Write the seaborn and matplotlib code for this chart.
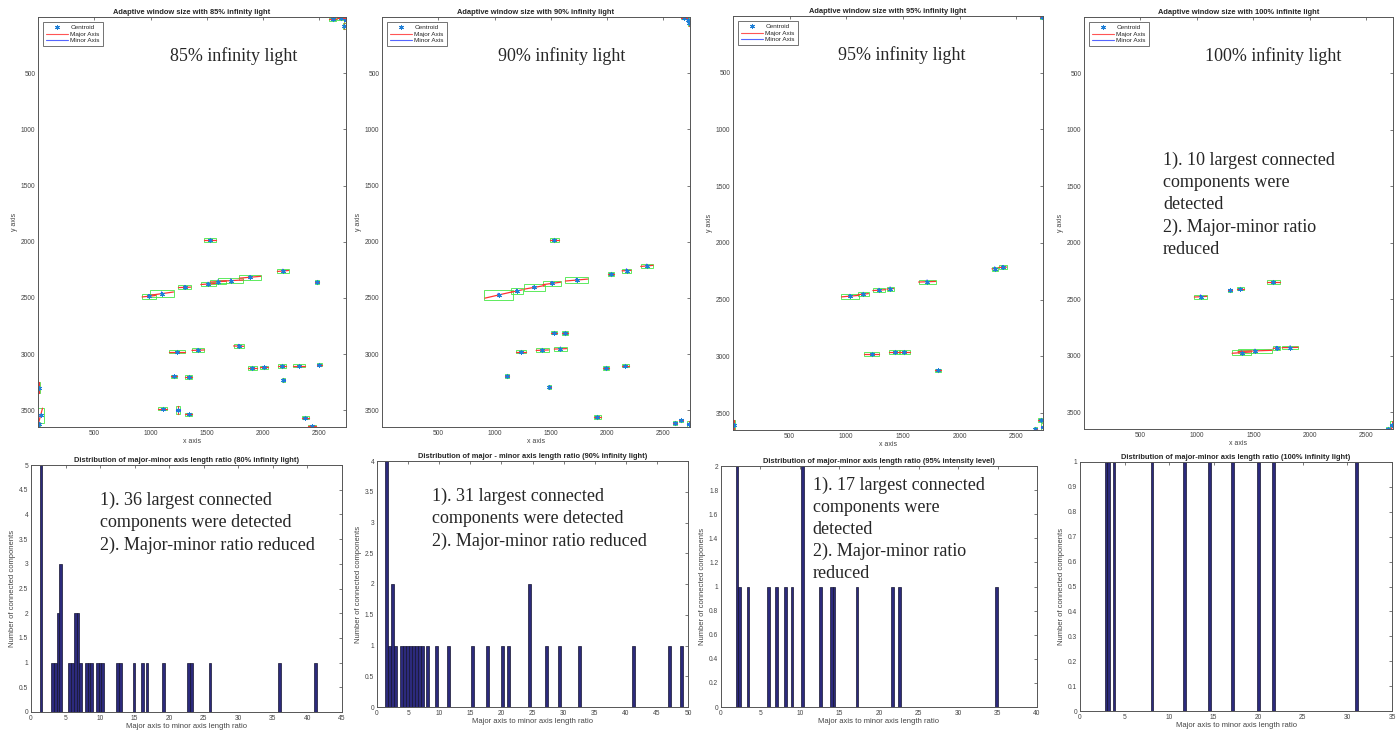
import numpy as np
import matplotlib
matplotlib.use('Agg')
import matplotlib.pyplot as plt
from matplotlib.patches import Rectangle
from matplotlib.lines import Line2D
from matplotlib.ticker import FormatStrFormatter
import seaborn as sns

# ---- top row: detected components (image coords in px), centroid / major axis length / angle(deg)
titles_top = ['Adaptive window size with 85% infinity light',
              'Adaptive window size with 90% infinity light',
              'Adaptive window size with 95% infinity light',
              'Adaptive window size with 100% infinite light']
labels_top = ['85% infinity light', '90% infinity light', '95% infinity light', '100% infinity light']

cx_85 = [1527, 985, 1100, 1303, 1512, 1601, 1714, 1884, 2177, 2479, 1235, 1423, 1783, 1905, 2009,
         2167, 2321, 2500, 1208, 1339, 2181, 1107, 1244, 1339, 2375, 2434, 5, 24, 5, 2619, 2693, 2723, 2733]
cy_85 = [1984, 2485, 2462, 2406, 2376, 2355, 2346, 2316, 2260, 2358, 2979, 2965, 2929, 3125, 3119,
         3107, 3104, 3095, 3197, 3203, 3232, 3485, 3494, 3535, 3565, 3642, 3298, 3544, 3625, 21, 12, 81, 30]
len_85 = [110, 120, 210, 110, 130, 140, 220, 190, 100, 30, 140, 110, 90, 80, 70,
          70, 110, 40, 60, 60, 40, 80, 70, 60, 60, 70, 100, 130, 50, 60, 80, 60, 40]
ang_85 = [0, 6, 8, 2, 4, 3, 3, 5, 5, 0, 0, 2, -2, 0, 0,
          0, 0, 0, 0, 0, 90, 0, 90, 0, 0, 0, 90, 75, 90, 0, 0, 90, 90]

cx_90 = [1530, 1036, 1199, 1354, 1509, 1729, 2033, 2173, 2354, 1527, 1625, 1238, 1425, 1586,
         1110, 1991, 2161, 1488, 1914, 2604, 2658, 2726, 2687, 2723, 2732]
cy_90 = [1984, 2474, 2438, 2406, 2371, 2341, 2287, 2257, 2215, 2810, 2813, 2977, 2965, 2953,
         3194, 3122, 3104, 3292, 3559, 3613, 3589, 3625, 6, 27, 50]
len_90 = [80, 250, 100, 180, 160, 200, 50, 80, 110, 50, 50, 90, 110, 110,
          40, 50, 60, 30, 60, 30, 30, 60, 60, 40, 60]
ang_90 = [0, 13, 12, 10, 8, 5, 0, 3, 5, 0, 0, 0, 2, 2,
          0, 0, 0, 0, 0, 0, 0, 90, 0, 90, 90]

cx_95 = [1033, 1151, 1290, 1388, 1714, 2311, 2380, 1225, 1426, 1512, 1808, 5, 2670, 2720, 2735, 2729]
cy_95 = [2469, 2451, 2416, 2404, 2342, 2227, 2215, 2980, 2962, 2962, 3124, 3605, 3641, 3561, 3620, 10]
len_95 = [150, 90, 110, 60, 150, 50, 70, 130, 90, 100, 50, 90, 30, 50, 60, 40]
ang_95 = [5, 5, 4, 4, 2, 3, 3, 0, 0, 0, 0, 90, 0, 0, 90, 0]

cx_100 = [1033, 1293, 1385, 1678, 1397, 1515, 1705, 1826, 2693, 2729]
cy_100 = [2477, 2421, 2406, 2347, 2972, 2957, 2933, 2927, 3646, 3617]
len_100 = [110, 40, 60, 110, 170, 300, 60, 140, 40, 70]
ang_100 = [3, 0, 0, 0, 4, 2, 2, 1, 0, 80]

top_data = [(cx_85, cy_85, len_85, ang_85), (cx_90, cy_90, len_90, ang_90),
            (cx_95, cy_95, len_95, ang_95), (cx_100, cy_100, len_100, ang_100)]

# ---- bottom row: histogram of major/minor ratio (bin centre, count), 100 bins each
titles_bot = ['Distribution of major-minor axis length ratio (80% infinity light)',
              'Distribution of major - minor axis length ratio (90% infinity light)',
              'Distribution of major-minor axis length ratio (95% intensity level)',
              'Distribution of major-minor axis length ratio (100% infinity light)']

ratio_80 = [1.45, 3.1, 3.5, 3.9, 4.3, 5.6, 6.0, 6.4, 6.8, 7.2, 8.0, 8.4, 8.8, 9.6, 10.0, 10.4,
            12.5, 12.9, 14.9, 16.1, 16.8, 19.2, 22.8, 23.2, 25.9, 36.0, 41.2]
count_80 = [5, 1, 1, 2, 3, 1, 1, 2, 2, 1, 1, 1, 1, 1, 1, 1,
            1, 1, 1, 1, 1, 1, 1, 1, 1, 1, 1]

ratio_90 = [1.53, 2.01, 2.49, 2.97, 3.94, 4.42, 4.90, 5.38, 5.86, 6.34, 6.82, 7.30,
            8.1, 9.5, 11.5, 15.3, 17.7, 20.1, 21.1, 24.5, 27.3, 29.3, 32.6, 41.2, 47.0, 48.9]
count_90 = [4, 1, 2, 1, 1, 1, 1, 1, 1, 1, 1, 1,
            1, 1, 1, 1, 1, 1, 1, 2, 1, 1, 1, 1, 1, 1]

ratio_95 = [2.04, 2.37, 3.4, 6.0, 7.0, 8.2, 9.0, 10.3, 12.6, 13.95, 14.3, 17.2, 21.7, 22.6, 34.9]
count_95 = [2, 1, 1, 1, 1, 1, 1, 2, 1, 1, 1, 1, 1, 1, 1]

ratio_100 = [2.9, 3.2, 3.8, 8.06, 11.7, 14.55, 17.1, 20.0, 21.7, 31.0]
count_100 = [1, 1, 1, 1, 1, 1, 1, 1, 1, 1]

bot_data = [(ratio_80, count_80), (ratio_90, count_90), (ratio_95, count_95), (ratio_100, count_100)]
bin_w = [0.40, 0.48, 0.33, 0.28]
xmax_bot = [45, 50, 40, 35]
ymax_bot = [5, 4, 2, 1]
ystep_bot = [0.5, 0.5, 0.2, 0.1]

notes_bot = ['1). 36 largest connected\ncomponents were detected\n2). Major-minor ratio reduced',
             '1). 31 largest connected\ncomponents were detected\n2). Major-minor ratio reduced',
             '1). 17 largest connected\ncomponents were\ndetected\n2). Major-minor ratio\nreduced',
             None]
note_top4 = '1). 10 largest connected\ncomponents were\ndetected\n2). Major-minor ratio\nreduced'

sns.set_style('white')
plt.rcParams['font.family'] = ['Liberation Sans', 'DejaVu Sans']

W, H = 1398, 733
fig = plt.figure(figsize=(W / 100, H / 100), dpi=100)


def px_axes(l, t, r, b):
    return fig.add_axes([l / W, 1 - b / H, (r - l) / W, (b - t) / H])


def style(ax):
    ax.tick_params(direction='in', top=True, right=True, length=2.5, width=0.5,
                   labelsize=4.8, labelcolor='#444', pad=2, color='#444')
    for s in ax.spines.values():
        s.set_linewidth(0.7)
        s.set_color('#555')


top_boxes = [(38, 17, 346, 427), (382, 17, 690, 427), (733, 16, 1043, 430), (1084, 17, 1393, 429)]
bot_boxes = [(31, 465, 342, 712), (377, 461, 688, 707), (721, 466, 1037, 707), (1080, 462, 1392, 711)]
label_x = [0.43, 0.375, 0.338, 0.39]
minor_len = 30
serif = ['Liberation Serif', 'DejaVu Serif']

for k in range(4):
    ax = px_axes(*top_boxes[k])
    cx, cy, L, A = top_data[k]
    for x, y, l, a in zip(cx, cy, L, A):
        t = np.deg2rad(a)
        dx, dy = l / 2 * np.cos(t), -l / 2 * np.sin(t)
        mx, my = minor_len / 2 * np.sin(t), minor_len / 2 * np.cos(t)
        w = abs(2 * dx) + abs(2 * mx)
        h = abs(2 * dy) + abs(2 * my)
        ax.add_patch(Rectangle((x - w / 2, y - h / 2), w, h, fill=False, ec='#44e844', lw=0.6))
        ax.plot([x - dx, x + dx], [y - dy, y + dy], color='#ff3333', lw=0.9)
        ax.plot([x - mx, x + mx], [y - my, y + my], color='#3344ff', lw=0.9)
    ax.plot(cx, cy, linestyle='none', marker=(6, 2, 0), ms=3.5, mew=0.7, color='#1f7fd6')
    ax.set_xlim(0.5, 2736.5)
    ax.set_ylim(3648.5, 0.5)
    ax.set_xticks([500, 1000, 1500, 2000, 2500])
    ax.set_yticks([500, 1000, 1500, 2000, 2500, 3000, 3500])
    style(ax)
    ax.set_title(titles_top[k], fontsize=5.4, fontweight='bold', pad=2)
    ax.set_xlabel('x axis', fontsize=5, color='#444', labelpad=1)
    ax.set_ylabel('y axis', fontsize=5, color='#444', labelpad=2)
    handles = [Line2D([], [], linestyle='none', marker=(6, 2, 0), ms=3.5, mew=0.7, color='#1f7fd6'),
               Line2D([], [], color='#ff5555', lw=0.8),
               Line2D([], [], color='#5566ff', lw=0.8)]
    leg = ax.legend(handles, ['Centroid', 'Major Axis', 'Minor Axis'], loc='upper left',
                    fontsize=4.6, frameon=True, fancybox=False, borderpad=0.45, labelspacing=0.15,
                    handlelength=3.4, handletextpad=0.4, borderaxespad=0.8)
    leg.get_frame().set_edgecolor('#333')
    leg.get_frame().set_linewidth(0.6)
    ax.text(label_x[k], 0.905, labels_top[k], transform=ax.transAxes, fontsize=13,
            family=serif, va='center', ha='left')
    if k == 3:
        ax.text(0.256, 0.672, note_top4, transform=ax.transAxes, fontsize=13,
                family=serif, va='top', ha='left', linespacing=1.38)

note_pos = [(0.222, 0.89), (0.177, 0.89), (0.29, 0.955)]
for k in range(4):
    ax = px_axes(*bot_boxes[k])
    r, c = bot_data[k]
    ax.bar(r, c, width=bin_w[k], color='#2c2a7c', edgecolor='#141430', linewidth=0.5)
    ax.set_xlim(0, xmax_bot[k])
    ax.set_ylim(0, ymax_bot[k])
    ax.set_xticks(np.arange(0, xmax_bot[k] + 0.1, 5))
    ax.set_yticks(np.round(np.arange(0, ymax_bot[k] + 1e-6, ystep_bot[k]), 2))
    ax.yaxis.set_major_formatter(FormatStrFormatter('%g'))
    style(ax)
    ax.set_title(titles_bot[k], fontsize=5.4, fontweight='bold', pad=2)
    ax.set_xlabel('Major axis to minor axis length ratio', fontsize=5.5, color='#444', labelpad=1)
    ax.set_ylabel('Number of connected components', fontsize=5.5, color='#444', labelpad=2)
    if notes_bot[k]:
        ax.text(note_pos[k][0], note_pos[k][1], notes_bot[k], transform=ax.transAxes,
                fontsize=13, family=serif, va='top', ha='left', linespacing=1.38)

fig.savefig('out.png', dpi=100, facecolor='white')
